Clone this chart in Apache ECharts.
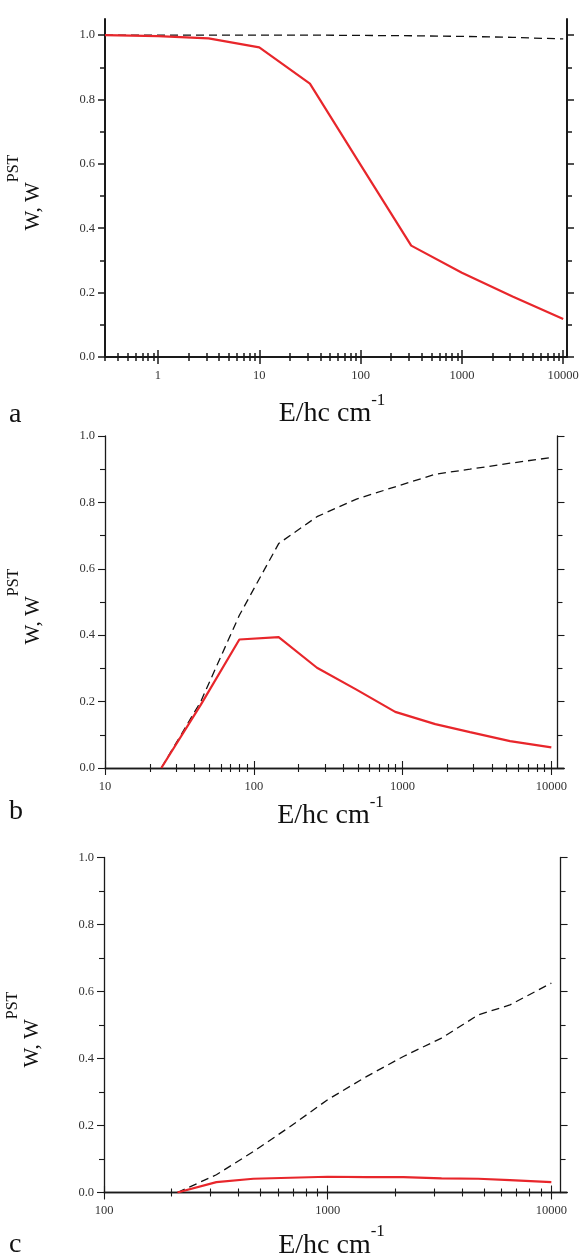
<!DOCTYPE html>
<html><head><meta charset="utf-8">
<script src="https://cdn.jsdelivr.net/npm/echarts@6/dist/echarts.min.js"></script>
<style>html,body{margin:0;padding:0;background:#fff}#c{width:584px;height:1259px}</style>
</head><body><div id="c"></div>
<script>
// ---- Panel a ----
const aEnergy = [0.3, 1, 3.16, 10, 31.6, 100, 316, 1000, 3162, 10000];
const aW      = [1.0, 0.997, 0.99, 0.962, 0.849, 0.597, 0.346, 0.262, 0.188, 0.118];
const aWpst   = [1.0, 1.0, 1.0, 1.0, 1.0, 0.999, 0.998, 0.996, 0.993, 0.988];
// ---- Panel b ----
const bEnergy = [23.9, 44, 80, 147, 266, 490, 893, 1660, 2840, 5280, 10000];
const bW      = [0, 0.19, 0.387, 0.394, 0.302, 0.236, 0.169, 0.132, 0.108, 0.081, 0.062];
const bWpst   = [0, 0.2, 0.46, 0.676, 0.757, 0.81, 0.847, 0.885, 0.9, 0.918, 0.935];
// ---- Panel c ----
const cEnergy = [213, 318, 465, 680, 1000, 1490, 2180, 3230, 4710, 6530, 10000];
const cW      = [0, 0.031, 0.041, 0.044, 0.047, 0.046, 0.046, 0.042, 0.041, 0.037, 0.031];
const cWpst   = [0, 0.053, 0.122, 0.197, 0.277, 0.346, 0.406, 0.461, 0.53, 0.56, 0.625];
// ---- tick labels ----
const xDecades = [0.1, 1, 10, 100, 1000, 10000];
const xMinor = [0.2,0.3,0.4,0.5,0.6,0.7,0.8,0.9,2,3,4,5,6,7,8,9,20,30,40,50,60,70,80,90,200,300,400,500,600,700,800,900,2000,3000,4000,5000,6000,7000,8000,9000];
const yMajor = [0, 0.2, 0.4, 0.6, 0.8, 1.0];
const yMinor = [0.1, 0.3, 0.5, 0.7, 0.9];
const panelLetters = ['a', 'b', 'c'];
const xTitle = '{m|E/hc cm}{s|-1}';
const yTitle = '{m|W, W}{s|PST}';

const SERIF = 'Liberation Serif';
const RED = '#e8262b';
const panels = [
  {E: aEnergy, W: aW, P: aWpst, min: 0.3, max: 10900, ymax: 1.05,
   grid: {left: 105, top: 19, width: 462, height: 338}, rOff: 0, lw: 2, nameGap: 35},
  {E: bEnergy, W: bW, P: bWpst, min: 10, max: 12170, ymax: 1.0,
   grid: {left: 105, top: 436, width: 459, height: 332}, rOff: -6.5, lw: 1.3, nameGap: 23},
  {E: cEnergy, W: cW, P: cWpst, min: 100, max: 11750, ymax: 1.0,
   grid: {left: 104, top: 857.5, width: 463, height: 335}, rOff: -6.4, lw: 1.3, nameGap: 31}
];

const grids = [], xAxes = [], yAxes = [], series = [];
panels.forEach((p, gi) => {
  grids.push(Object.assign({containLabel: false, outerBoundsMode: 'none'}, p.grid));
  const line = {color: '#1a1a1a', width: p.lw};
  const tickLine = {color: '#1a1a1a', width: p.lw > 1.5 ? 1.5 : 1.1};
  const xi = xAxes.length, yi = yAxes.length;
  ['bottom', 'top'].forEach(pos => {
    xAxes.push({
      gridIndex: gi, type: 'log', logBase: 10, position: pos, min: p.min, max: p.max,
      axisLine: {show: true, lineStyle: line},
      axisTick: {show: true, inside: false, length: 7, customValues: xDecades, lineStyle: tickLine},
      axisLabel: {show: pos === 'bottom', customValues: xDecades, margin: 12,
        formatter: v => String(Math.round(v)), fontFamily: SERIF, fontSize: 12.5, color: '#333'},
      splitLine: {show: false},
      name: pos === 'bottom' ? xTitle : '', nameLocation: 'middle', nameGap: p.nameGap,
      nameTextStyle: {padding: [0, 8, 0, 0], rich: {
        m: {fontFamily: SERIF, fontSize: 28, color: '#111', lineHeight: 36, verticalAlign: 'bottom'},
        s: {fontFamily: SERIF, fontSize: 17, color: '#111', lineHeight: 16, verticalAlign: 'top'}}}
    });
    xAxes.push({
      gridIndex: gi, type: 'log', logBase: 10, position: pos, min: p.min, max: p.max,
      axisLine: {show: false},
      axisTick: {show: true, inside: false, length: 4, customValues: xMinor, lineStyle: tickLine},
      axisLabel: {show: false}, splitLine: {show: false}
    });
  });
  ['left', 'right'].forEach(pos => {
    yAxes.push({
      gridIndex: gi, type: 'value', position: pos, min: 0, max: p.ymax,
      offset: pos === 'right' ? p.rOff : 0,
      axisLine: {show: true, lineStyle: line},
      axisTick: {show: true, inside: false, length: 7, customValues: yMajor, lineStyle: tickLine},
      axisLabel: {show: pos === 'left', customValues: yMajor, margin: 10,
        formatter: v => v.toFixed(1), fontFamily: SERIF, fontSize: 12.5, color: '#333'},
      splitLine: {show: false},
      name: pos === 'left' ? yTitle : '', nameLocation: 'middle', nameRotate: 90, nameGap: 61.5,
      nameTextStyle: {padding: [0, 9, 0, 0], rich: {
        m: {fontFamily: SERIF, fontSize: 21, color: '#111', lineHeight: 38, verticalAlign: 'bottom'},
        s: {fontFamily: SERIF, fontSize: 16, color: '#111', lineHeight: 16, verticalAlign: 'top'}}}
    });
    yAxes.push({
      gridIndex: gi, type: 'value', position: pos, min: 0, max: p.ymax,
      offset: pos === 'right' ? p.rOff : 0,
      axisLine: {show: false},
      axisTick: {show: true, inside: false, length: 5, customValues: yMinor, lineStyle: tickLine},
      axisLabel: {show: false}, splitLine: {show: false}
    });
  });
  series.push({
    type: 'line', xAxisIndex: xi, yAxisIndex: yi, showSymbol: false, symbol: 'none',
    data: p.E.map((e, i) => [e, p.P[i]]),
    lineStyle: {color: '#111', width: 1.3, type: [8, 5]}, z: 3
  });
  series.push({
    type: 'line', xAxisIndex: xi, yAxisIndex: yi, showSymbol: false, symbol: 'none',
    data: p.E.map((e, i) => [e, p.W[i]]),
    lineStyle: {color: RED, width: 2.2}, z: 4
  });
});

const letterY = [415, 811.5, 1244.5];
const graphic = panelLetters.map((t, i) => ({
  type: 'text', x: 9, y: letterY[i],
  style: {text: t, font: '28px "Liberation Serif"', fill: '#111', verticalAlign: 'middle'}
}));

const chart = echarts.init(document.getElementById('c'), null, {renderer: 'canvas'});
chart.setOption({
  animation: false, backgroundColor: '#fff',
  grid: grids, xAxis: xAxes, yAxis: yAxes, series: series, graphic: graphic
});
</script></body></html>
